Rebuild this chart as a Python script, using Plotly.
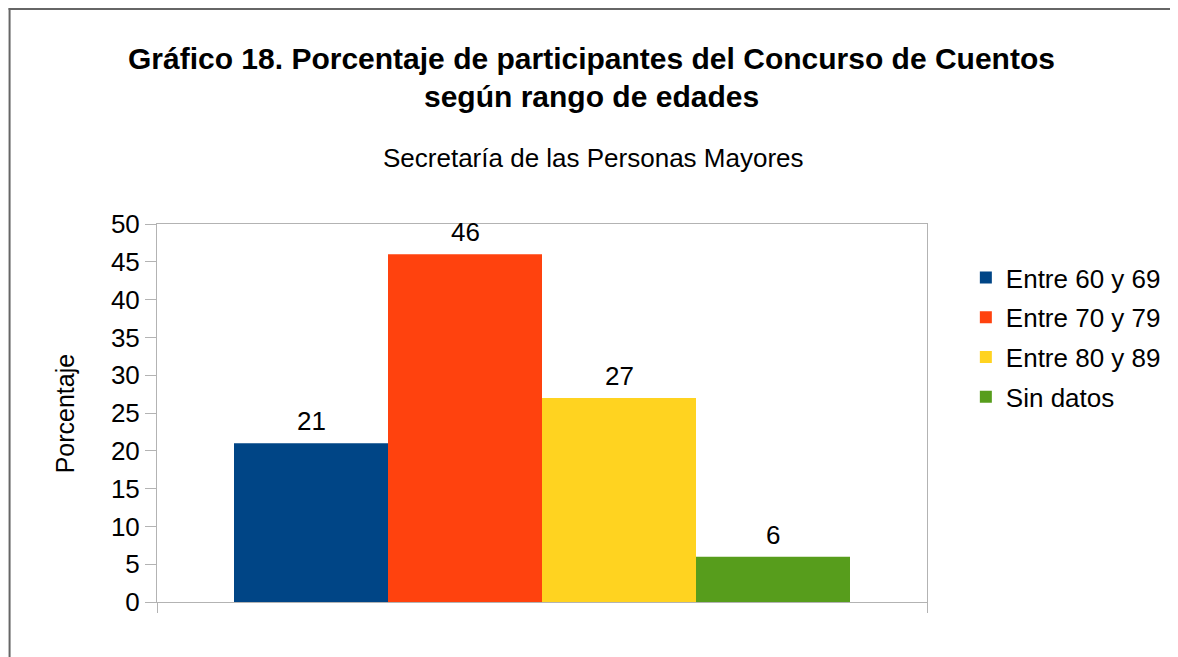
import plotly.graph_objects as go

categories = ["Entre 60 y 69", "Entre 70 y 79", "Entre 80 y 89", "Sin datos"]
values = [21, 46, 27, 6]
colors = ["#004586", "#ff420e", "#ffd320", "#579d1c"]
y_ticks = list(range(0, 51, 5))

FONT = "Liberation Sans, Arial, sans-serif"
GRAY = "#b3b3b3"

fig = go.Figure()
for i, (name, v, c) in enumerate(zip(categories, values, colors)):
    fig.add_trace(go.Bar(x=[""], y=[v], name=name, legendgroup=f"g{i}",
                         marker=dict(color=c, line=dict(width=0))))

n = len(values)
group_w = 0.8
for i, v in enumerate(values):
    xc = -group_w / 2 + group_w / n * (i + 0.5)
    fig.add_annotation(x=xc, y=v, xref="x", yref="y", text=str(v), showarrow=False,
                       yanchor="bottom", yshift=5, font=dict(size=26, color="black", family=FONT))

OFF = 8  # page body margin
W, H = 1170, 649
L = 157 - OFF
T = 224 - OFF
R = W - (930 - OFF)
B = H - (602 - OFF)
pw, ph = W - L - R, H - T - B

def px(xp):
    return (xp - OFF - L) / pw

def py(yp):
    return (H - B - (yp - OFF)) / ph

fig.add_annotation(x=px(593), y=py(58), xref="paper", yref="paper", showarrow=False,
                   text="<b>Gráfico 18. Porcentaje de participantes del Concurso de Cuentos</b>",
                   font=dict(size=30, color="black", family=FONT), yanchor="middle")
fig.add_annotation(x=px(593), y=py(96), xref="paper", yref="paper", showarrow=False,
                   text="<b>según rango de edades</b>",
                   font=dict(size=30, color="black", family=FONT), yanchor="middle")
fig.add_annotation(x=px(595), y=py(158), xref="paper", yref="paper", showarrow=False,
                   text="Secretaría de las Personas Mayores",
                   font=dict(size=26, color="black", family=FONT), yanchor="middle")
fig.add_annotation(x=px(65), y=0.5, xref="paper", yref="paper", showarrow=False,
                   text="Porcentaje", textangle=-90,
                   font=dict(size=25, color="black", family=FONT), xanchor="center", yanchor="middle")

# outer frame (top and left edges)
fig.add_shape(type="line", xref="paper", yref="paper", x0=px(8), x1=px(1200), y0=py(9), y1=py(9),
              line=dict(color="#666666", width=2))
fig.add_shape(type="line", xref="paper", yref="paper", x0=px(9), x1=px(9), y0=py(8), y1=py(700),
              line=dict(color="#666666", width=2))

fig.update_layout(
    width=W, height=H,
    margin=dict(l=L, r=R, t=T, b=B),
    paper_bgcolor="white", plot_bgcolor="white",
    barmode="group", bargap=0.2, bargroupgap=0,
    showlegend=True,
    legend=dict(x=px(969), y=py(254), xanchor="left", yanchor="top",
                font=dict(size=26, color="black", family=FONT),
                itemsizing="constant", tracegroupgap=3, bgcolor="rgba(0,0,0,0)"),
    font=dict(family=FONT, color="black"),
)
fig.update_xaxes(showline=True, linecolor=GRAY, linewidth=1, mirror=True, showgrid=False,
                 ticks="outside", tickson="boundaries", ticklen=10, tickcolor=GRAY,
                 showticklabels=False, range=[-0.5, 0.5], fixedrange=True)
fig.update_yaxes(range=[0, 50], tickvals=y_ticks, showline=True, linecolor=GRAY, linewidth=1,
                 mirror=True, showgrid=False, zeroline=False, ticks="outside", ticklen=11,
                 tickcolor=GRAY, tickfont=dict(size=26, color="black", family=FONT))

fig.write_html("out.html")
